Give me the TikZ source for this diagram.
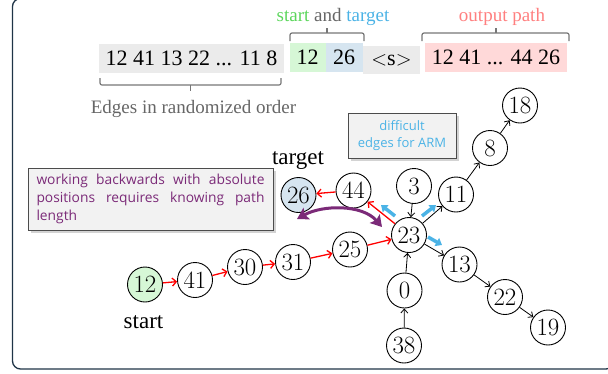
\documentclass[tikz,border=0pt]{standalone}
\usepackage{fontspec}
\setmainfont{Liberation Serif}
\newfontfamily\osans{Open Sans}
\usetikzlibrary{arrows.meta,shadows}
\definecolor{framec}{HTML}{1F3447}
\definecolor{boxgray}{HTML}{EBEBEB}
\definecolor{boxgreen}{HTML}{D6F7D6}
\definecolor{boxblue}{HTML}{D6E5F0}
\definecolor{boxpink}{HTML}{FFD9D9}
\definecolor{txtgreen}{HTML}{5CD65C}
\definecolor{txtblue}{HTML}{4BB3E6}
\definecolor{txtpink}{HTML}{FF7F7F}
\definecolor{txtgray}{HTML}{666666}
\definecolor{bracec}{HTML}{777777}
\definecolor{purp}{HTML}{7B2A78}
\definecolor{calloutfill}{HTML}{F2F2F2}
\begin{document}
\begin{tikzpicture}[x=1pt,y=-1pt,
  vtx/.style={circle,draw,line width=0.9pt,minimum size=35pt,inner sep=0pt,font=\fontsize{25}{28}\selectfont},
  redge/.style={draw=red,line width=1.3pt,-{Straight Barb[length=4pt,width=8pt]}},
  bedge/.style={draw=black,line width=0.8pt,-{Straight Barb[length=4pt,width=7pt]}},
  tok/.style={inner sep=0pt,minimum height=29pt,font=\fontsize{22}{24}\selectfont},
  bracket/.style={draw=bracec,line width=1.2pt,rounded corners=2pt},
  lbl/.style={inner sep=0pt,font=\fontsize{19}{22}\selectfont},
  biglbl/.style={inner sep=0pt,font=\fontsize{23}{26}\selectfont},
  callout/.style={draw=black!70,line width=1pt,fill=calloutfill,inner sep=0pt,
    drop shadow={opacity=0.35,shadow xshift=3pt,shadow yshift=-3pt}},
  diffarrow/.style={draw=txtblue,line width=3.5pt,-{Triangle[length=6pt,width=9pt]}},
  purparrow/.style={draw=purp,line width=3pt,{Stealth[length=11pt,width=13pt,inset=2pt]}-{Stealth[length=11pt,width=13pt,inset=2pt]}}
]
\useasboundingbox (0,0) rectangle (608,373);
\clip (0,0) rectangle (608,373);
% frame
\draw[framec,line width=1.3pt,rounded corners=8pt] (12.5,-1.5) rectangle (614,369);

% token row
\node[tok,fill=boxgray,minimum width=185pt] (edges) at (191.5,58) {12 41 13 22 ... 11 8};
\node[tok,fill=boxgreen,minimum width=36pt] (s12) at (307.5,57.5) {12};
\node[tok,fill=boxblue,minimum width=37pt] (t26) at (344,57.5) {26};
\node[tok,fill=boxgray,minimum width=57pt,minimum height=28pt] (sep) at (391.5,60) {$<$s$>$};
\node[tok,fill=boxpink,minimum width=142pt] (outp) at (496,57.5) {12 41 ... 44 26};

% brackets
\draw[bracket] (290,41) -- (290,33) -- (364,33) -- (364,41);
\draw[bracket] (327,33) -- (327,27.5);
\draw[bracket] (422,41) -- (422,33) -- (569,33) -- (569,41);
\draw[bracket] (496,33) -- (496,27.5);
\draw[bracket] (100,78) -- (100,85) -- (281,85) -- (281,78);
\draw[bracket] (190.5,85) -- (190.5,91);

\node[lbl,anchor=base] (stlbl) at (333,21) {\textcolor{txtgreen}{start} \textcolor{txtgray}{and} \textcolor{txtblue}{target}};
\node[lbl,anchor=base,text=txtpink] (outlbl) at (502,21.5) {output path};
\node[lbl,anchor=base,text=txtgray] (edgelbl) at (193.5,113) {Edges in randomized order};

% callouts
\node[callout,minimum width=245pt,minimum height=62pt,text=purp] (work) at (150.5,199)
  {\begin{minipage}{228pt}\osans\fontsize{13.8}{17.7}\selectfont working backwards with absolute\linebreak positions requires knowing path\linebreak length\end{minipage}};
\node[callout,minimum width=108pt,minimum height=45pt,text=txtblue,align=center,font=\osans\fontsize{13}{17}\selectfont] (diff) at (402,135.5)
  {difficult\\edges for ARM};

% vertices
\node[vtx,fill=boxgreen] (n12) at (145,284.5) {$12$};
\node[vtx] (n41) at (195,280) {$41$};
\node[vtx] (n30) at (245,267) {$30$};
\node[vtx] (n31) at (293,262) {$31$};
\node[vtx] (n25) at (350,249.5) {$25$};
\node[vtx] (n23) at (409,235) {$23$};
\node[vtx] (n44) at (353.5,190.5) {$44$};
\node[vtx,fill=boxblue] (n26) at (298.5,195) {$26$};
\node[vtx] (n3) at (414,186) {$3$};
\node[vtx] (n11) at (456,194.5) {$11$};
\node[vtx] (n8) at (490,148) {$8$};
\node[vtx] (n18) at (520,105.5) {$18$};
\node[vtx] (n13) at (459.5,264.5) {$13$};
\node[vtx] (n22) at (505,297) {$22$};
\node[vtx] (n19) at (548,327.5) {$19$};
\node[vtx] (n0) at (404.5,290.5) {$0$};
\node[vtx] (n38) at (404,345.5) {$38$};

\node[biglbl,anchor=base] (tgtlbl) at (298,164) {target};
\node[biglbl,anchor=base] (stalbl) at (143.5,328) {start};

% red path
\draw[redge] (n12) -- (n41);
\draw[redge] (n41) -- (n30);
\draw[redge] (n30) -- (n31);
\draw[redge] (n31) -- (n25);
\draw[redge] (n25) -- (n23);
\draw[redge] (n23) -- (n44);
\draw[redge] (n44) -- (n26);

% black edges
\draw[bedge] (n3) -- (n23);
\draw[bedge] (n23) -- (n11);
\draw[bedge] (n11) -- (n8);
\draw[bedge] (n8) -- (n18);
\draw[bedge] (n23) -- (n13);
\draw[bedge] (n13) -- (n22);
\draw[bedge] (n22) -- (n19);
\draw[bedge] (n0) -- (n23);
\draw[bedge] (n38) -- (n0);

% difficult edges markers
\coordinate (b1s) at (395,216);
\coordinate (b1e) at (381,205);
\coordinate (b2s) at (422,216);
\coordinate (b2e) at (436,205);
\coordinate (b3s) at (428,237);
\coordinate (b3e) at (442,245);
\draw[diffarrow] (b1s) -- (b1e);
\draw[diffarrow] (b2s) -- (b2e);
\draw[diffarrow] (b3s) -- (b3e);

% purple double arrow
\coordinate (pa) at (297,219);
\coordinate (pb) at (382,227);
\draw[purparrow] (pa) .. controls (322,205) and (362,204) .. (pb);
\end{tikzpicture}
\end{document}
